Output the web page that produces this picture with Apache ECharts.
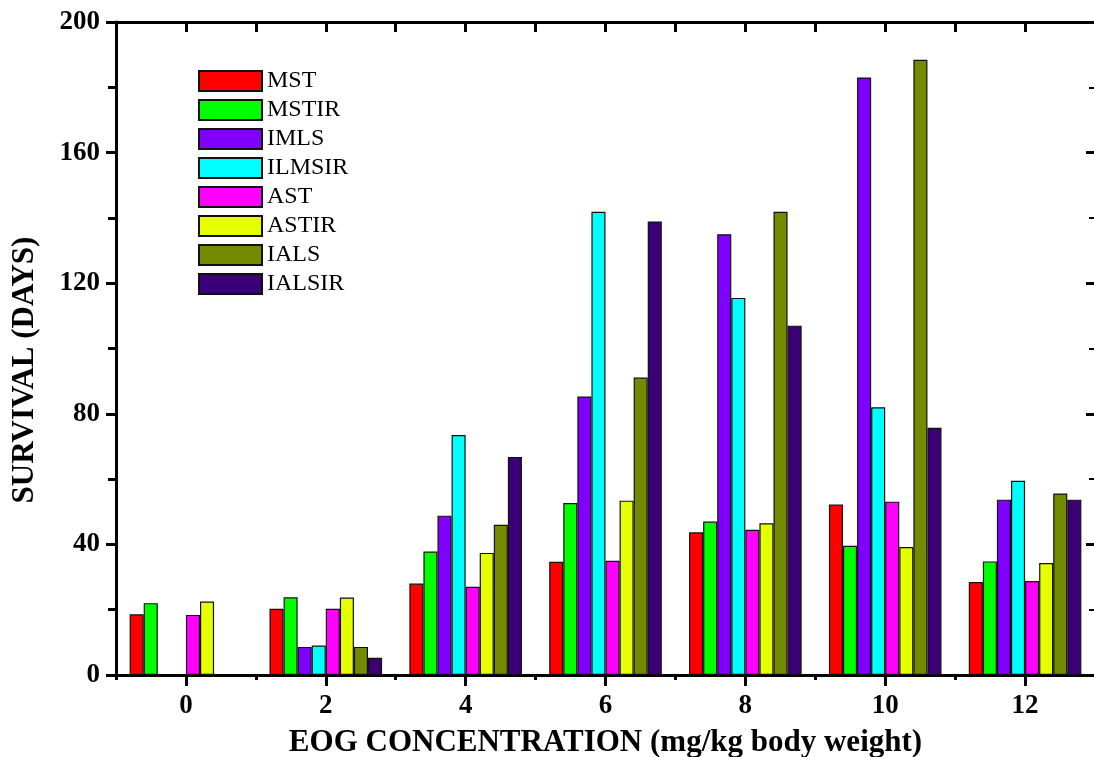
<!DOCTYPE html>
<html>
<head>
<meta charset="utf-8">
<script src="https://cdn.jsdelivr.net/npm/echarts@6/dist/echarts.min.js"></script>
<style>
html,body{margin:0;padding:0;background:#fff;}
#chart{width:1094px;height:757px;}
</style>
</head>
<body>
<div id="chart"></div>
<script>
const categories = ['0', '2', '4', '6', '8', '10', '12'];
const MST    = [18.6, 20.3, 28.0, 34.7, 43.7, 52.2, 28.5];
const MSTIR  = [22.0, 23.8, 37.8, 52.7, 47.0, 39.6, 34.8];
const IMLS   = [null, 8.6, 48.8, 85.3, 135.0, 183.0, 53.7];
const ILMSIR = [null, 9.0, 73.5, 141.9, 115.5, 82.0, 59.5];
const AST    = [18.4, 20.3, 27.0, 35.0, 44.5, 53.1, 28.8];
const ASTIR  = [22.5, 23.7, 37.4, 53.4, 46.5, 39.2, 34.3];
const IALS   = [null, 8.6, 46.0, 91.1, 141.9, 188.4, 55.6];
const IALSIR = [null, 5.3, 66.8, 138.9, 107.0, 75.7, 53.7];
const yTicks = [0, 40, 80, 120, 160, 200];
const xTitle = 'EOG CONCENTRATION (mg/kg body weight)';
const yTitle = 'SURVIVAL (DAYS)';

const seriesDefs = [
  ['MST', MST, '#FF0000'],
  ['MSTIR', MSTIR, '#00FF00'],
  ['IMLS', IMLS, '#7F00FF'],
  ['ILMSIR', ILMSIR, '#00FFFF'],
  ['AST', AST, '#FF00FF'],
  ['ASTIR', ASTIR, '#E6FF00'],
  ['IALS', IALS, '#748B00'],
  ['IALSIR', IALSIR, '#3B0078']
];

const font = 'Liberation Serif';
const chart = echarts.init(document.getElementById('chart'), null, {renderer: 'canvas'});

function catAxis(pos, align, len, inside, showLine, showLabel, extra) {
  return Object.assign({
    type: 'category',
    position: pos,
    data: categories,
    axisLine: {show: showLine, lineStyle: {color: '#000', width: 3}},
    axisTick: {show: true, alignWithLabel: align, length: len, inside: inside, lineStyle: {color: '#000', width: 3}},
    axisLabel: {show: showLabel},
    splitLine: {show: false}
  }, extra || {});
}

const option = {
  backgroundColor: '#fff',
  animation: false,
  grid: {left: 116, top: 22, width: 979, height: 653, containLabel: false, outerBoundsMode: 'none'},
  legend: {
    orient: 'vertical',
    left: 193,
    top: 64,
    itemWidth: 63,
    itemHeight: 20,
    itemGap: 5,
    icon: 'rect',
    textStyle: {fontFamily: font, fontSize: 24, color: '#000'},
    data: seriesDefs.map(d => d[0])
  },
  graphic: [{
    type: 'text',
    x: 25,
    y: 370,
    rotation: Math.PI / 2,
    style: {
      text: yTitle,
      fontFamily: font,
      fontSize: 31,
      fontWeight: 'bold',
      fill: '#000',
      align: 'center',
      verticalAlign: 'middle'
    }
  }],
  xAxis: [
    catAxis('bottom', true, 11, false, true, true, {
      name: xTitle,
      nameLocation: 'middle',
      nameGap: 52,
      nameTextStyle: {fontFamily: font, fontSize: 31, fontWeight: 'bold', color: '#000'},
      axisLabel: {show: true, fontFamily: font, fontSize: 27, fontWeight: 'bold', color: '#000', margin: 18}
    }),
    catAxis('bottom', false, 5, false, false, false),
    catAxis('top', true, 10, true, true, false),
    catAxis('top', false, 10, true, false, false)
  ],
  yAxis: [
    {
      type: 'value',
      position: 'left',
      min: yTicks[0],
      max: yTicks[yTicks.length - 1],
      interval: 40,
      axisLine: {show: true, lineStyle: {color: '#000', width: 3}},
      axisTick: {show: true, length: 10, inside: false, lineStyle: {color: '#000', width: 3}},
      minorTick: {show: true, splitNumber: 2, length: 8, lineStyle: {color: '#000', width: 3}},
      axisLabel: {fontFamily: font, fontSize: 27, fontWeight: 'bold', color: '#000', margin: 16},
      splitLine: {show: false}
    },
    {
      type: 'value',
      position: 'right',
      min: yTicks[0],
      max: yTicks[yTicks.length - 1],
      interval: 40,
      axisLine: {show: true, lineStyle: {color: '#000', width: 3}},
      axisTick: {show: true, length: 9, inside: true, lineStyle: {color: '#000', width: 3}},
      minorTick: {show: true, splitNumber: 2, length: 6, lineStyle: {color: '#000', width: 2}},
      axisLabel: {show: false},
      splitLine: {show: false}
    }
  ],
  series: seriesDefs.map(d => ({
    name: d[0],
    type: 'bar',
    data: d[1],
    xAxisIndex: 0,
    yAxisIndex: 0,
    barGap: '0%',
    barCategoryGap: '19.5%',
    itemStyle: {color: d[2], borderColor: '#111', borderWidth: 1.2}
  }))
};
chart.setOption(option);
</script>
</body>
</html>
